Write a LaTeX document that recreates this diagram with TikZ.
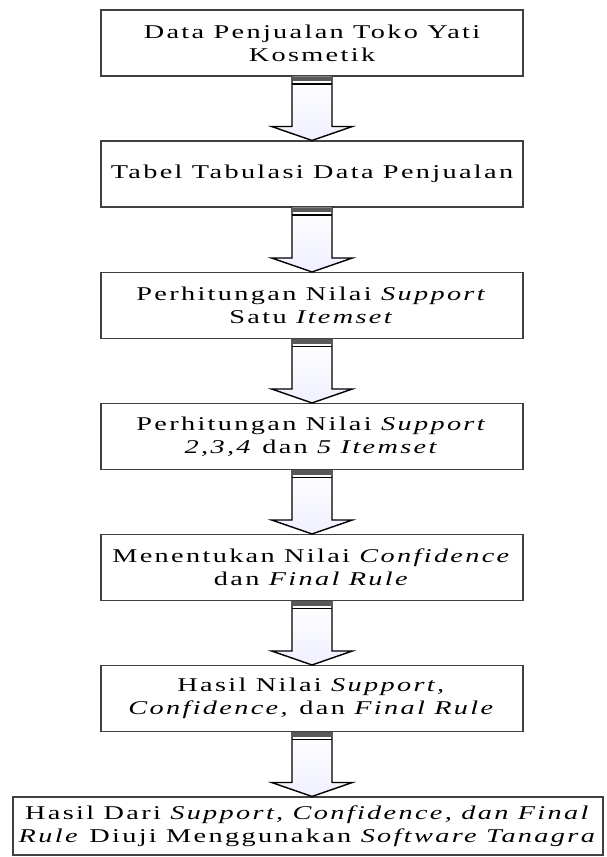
\documentclass[tikz,border=0pt]{standalone}
\usepackage{fontspec}
\setmainfont{Liberation Serif}[FakeStretch=1.45,LetterSpace=12]
\usetikzlibrary{calc}

% block arrow from the bottom of one box to the top of the next
\newcommand{\flowarrow}[2]{%
  \path[arrowbody] ($(#1.south)+(-20,0)$) -- ($(#1.south |- #2.north)+(-20,14)$)
    -- ($(#1.south |- #2.north)+(-40.5,14)$) -- (#1.south |- #2.north)
    -- ($(#1.south |- #2.north)+(40.5,14)$) -- ($(#1.south |- #2.north)+(20,14)$)
    -- ($(#1.south)+(20,0)$);
  \fill[arrowband] ($(#1.south)+(-20,0)$) rectangle ($(#1.south)+(20,-4.5)$);
  \draw[arrowline] ($(#1.south)+(-20,-7.5)$) -- ($(#1.south)+(20,-7.5)$);
}

\begin{document}
\begin{tikzpicture}[x=1pt, y=1pt,
    stepbox/.style={draw=black!75, line width=1.1pt, fill=white, align=center,
      minimum width=422, minimum height=66,
      font=\fontsize{19.5}{23}\selectfont},
    arrowbody/.style={draw=black, line width=1.4pt, line join=miter,
      top color=white, bottom color=blue!6!white},
    arrowband/.style={fill=black!65},
    arrowline/.style={draw=black, line width=1.3pt}]
    \useasboundingbox (0,0) rectangle (606,-857);

    % Boxes of the flow
    \node[stepbox] (data) at (312,-43) {Data Penjualan Toko Yati\\Kosmetik};
    \node[stepbox] (tabel) at (312,-174) {Tabel Tabulasi Data Penjualan};
    \node[stepbox] (satu) at (312,-305.5) {Perhitungan Nilai \textit{Support}\\Satu \textit{Itemset}};
    \node[stepbox] (multi) at (312,-436.5) {Perhitungan Nilai \textit{Support}\\\textit{2,3,4} dan \textit{5 Itemset}};
    \node[stepbox] (conf) at (312,-567.5) {Menentukan Nilai \textit{Confidence}\\dan \textit{Final Rule}};
    \node[stepbox] (hasil) at (312,-698.5) {Hasil Nilai \textit{Support,}\\\textit{Confidence,} dan \textit{Final Rule}};

    % Last box is wider
    \node[stepbox, minimum width=590, minimum height=58] (uji) at (308,-826)
      {Hasil Dari \textit{Support, Confidence, dan Final}\\\textit{Rule} Diuji Menggunakan \textit{Software Tanagra}};

    % Arrows between the boxes
    \flowarrow{data}{tabel}
    \flowarrow{tabel}{satu}
    \flowarrow{satu}{multi}
    \flowarrow{multi}{conf}
    \flowarrow{conf}{hasil}
    \flowarrow{hasil}{uji}
\end{tikzpicture}
\end{document}
